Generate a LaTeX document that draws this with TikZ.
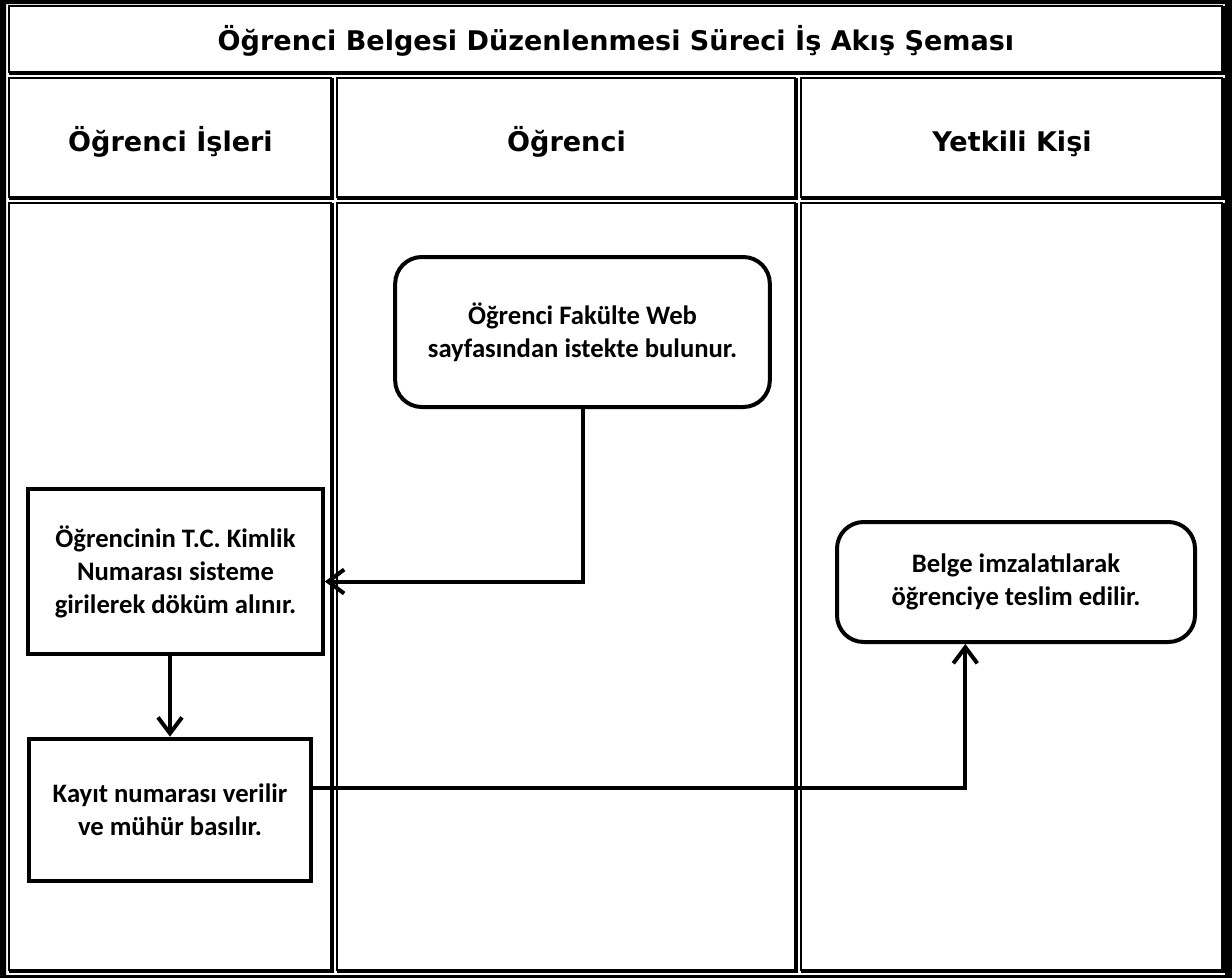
\documentclass[tikz,border=0pt]{standalone}
\usepackage{fontspec}
\setmainfont{Carlito}
\newfontfamily\headfont{DejaVu Sans}
\usetikzlibrary{arrows.meta}

\newcommand{\tablecell}[4]{%
  \draw[line width=1.5pt] (#1,#4) |- (#3,#2);
  \draw[line width=3pt] (#1,#4) -| (#3,#2);
}

\begin{document}
\begin{tikzpicture}[x=0.75pt,y=-0.75pt]
    \tikzstyle{heading}=[font=\headfont\bfseries\fontsize{20.3}{24}\selectfont,text height=0.75em,text depth=0.2em]
    \tikzstyle{task}=[rectangle,line width=3pt,draw=black,fill=white,align=center,font=\bfseries\fontsize{20}{24.75}\selectfont]
    \tikzstyle{event}=[task,rounded corners=20pt]
    \tikzstyle{flow}=[line width=3pt,line cap=round,line join=miter,-{Straight Barb[length=12pt,width=18pt,line width=3pt]}]
    \useasboundingbox (0,0) rectangle (1232,978);
    % table frame
    \fill[even odd rule] (0,0) rectangle (1232,978) (6,4) rectangle (1225,975);
    \tablecell{9}{6}{1223}{73}
    \tablecell{9}{78}{332}{198}
    \tablecell{337}{78}{796}{198}
    \tablecell{801}{78}{1223}{198}
    \tablecell{9}{202.5}{332}{971}
    \tablecell{337}{202.5}{796}{971}
    \tablecell{801}{202.5}{1223}{971}
    \node (title)[heading] at (616,47) {Öğrenci Belgesi Düzenlenmesi Süreci İş Akış Şeması};
    \node (lane1)[heading] at (170.5,148) {Öğrenci İşleri};
    \node (lane2)[heading] at (566.5,148) {Öğrenci};
    \node (lane3)[heading] at (1012,148) {Yetkili Kişi};
    % steps
    \node (request)[event,minimum width=281pt,minimum height=112.5pt] at (582.5,332) {Öğrenci Fakülte Web\\sayfasından istekte bulunur.};
    \node (record)[task,minimum width=221pt,minimum height=124pt] at (175.5,571.5) {Öğrencinin T.C. Kimlik\\Numarası sisteme\\girilerek döküm alınır.};
    \node (stamp)[task,minimum width=211.5pt,minimum height=107pt] at (170,810) {Kayıt numarası verilir\\ve mühür basılır.};
    \node (deliver)[event,minimum width=268.5pt,minimum height=90pt] at (1016,582) {Belge imzalatılarak\\öğrenciye teslim edilir.};
    % connectors
    \draw[flow] (request.south) |- ([yshift=-7.5pt]record.east);
    \draw[flow] (stamp.north |- record.south) -- (stamp.north);
    \draw[flow] ([yshift=16.5pt]stamp.east) -| ([xshift=-38pt]deliver.south);
\end{tikzpicture}
\end{document}
